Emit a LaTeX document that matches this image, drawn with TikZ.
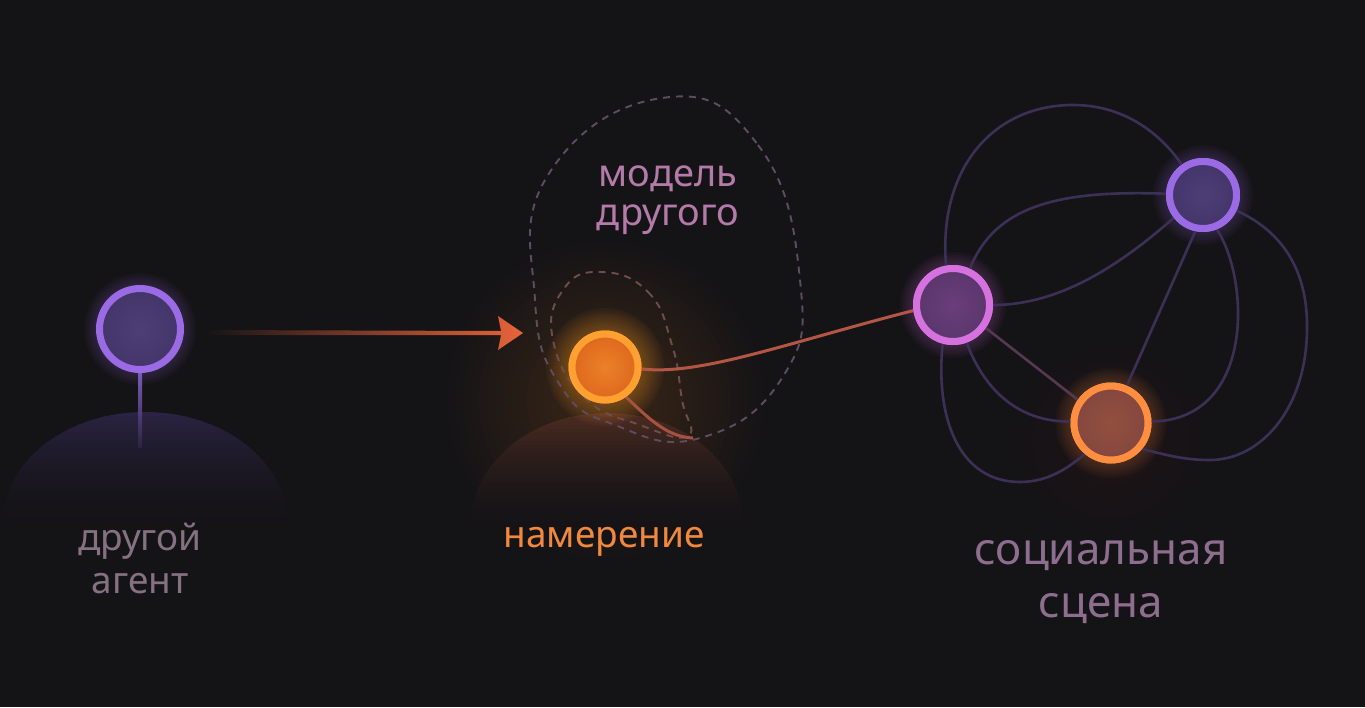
\documentclass[tikz,border=0pt]{standalone}
\usepackage{fontspec}
\setmainfont{Noto Sans}
\usetikzlibrary{calc}
\definecolor{bg}{HTML}{141316}
\definecolor{purplering}{HTML}{9B6BE6}
\definecolor{purplefill}{HTML}{43356A}
\definecolor{pinkring}{HTML}{D672E0}
\definecolor{pinkfill}{HTML}{5A366C}
\definecolor{orangering}{HTML}{FFA030}
\definecolor{corangering}{HTML}{FF8E40}
\definecolor{corangefill}{HTML}{84463F}
\definecolor{edgec}{HTML}{3D3057}
\definecolor{dashc}{HTML}{5E4D62}
\definecolor{txtgray}{HTML}{857182}
\definecolor{txtpink}{HTML}{B47AA8}
\definecolor{txtorange}{HTML}{F0883F}
\definecolor{txtscene}{HTML}{8E6E8E}
\definecolor{domepurple}{HTML}{2A2342}
\definecolor{domeorange}{HTML}{4C2B21}
\newcommand\glowat[6]{%
  \foreach \k in {1,...,#4}{\fill[#3,opacity=#5] (#1) circle[radius={#2pt+#6pt*\k}];}}
% dome: centre x, top y, x radius, y radius, colour
\newcommand\domeat[5]{%
  \begin{scope}
    \clip (#1,#2+#4) ellipse[x radius=#3pt, y radius=#4pt];
    \foreach \i in {0,...,31}{
      \pgfmathtruncatemacro\p{100*(1-\i/32)^2}
      \fill[#5!\p!bg] (#1-#3,#2+\i*4) rectangle (#1+#3,#2+\i*4+4.6);
    }
  \end{scope}}
\tikzset{
  dot/.style={circle,inner sep=0pt,line width=7pt},
  sceneedge/.style={draw=edgec,line width=2.6pt},
  dashline/.style={draw=dashc,line width=1.9pt,dash pattern=on 7pt off 6pt},
  label/.style={align=center,inner sep=0pt}
}
\begin{document}
\begin{tikzpicture}[x=1pt,y=-1pt]
\fill[bg] (0,0) rectangle (1365,707);
\useasboundingbox (0,0) rectangle (1365,707);

% broad haze
\glowat{605,400}{30}{orangering}{16}{0.010}{8}
\glowat{1111,440}{30}{corangering}{8}{0.008}{8}

% domes
\domeat{145}{412}{142}{110}{domepurple}
\domeat{607}{413}{136}{111}{domeorange}

% glows
\glowat{140,329}{41}{purplering}{6}{0.04}{2.5}
\glowat{605,367}{34}{orangering}{10}{0.04}{2.5}
\glowat{953,305}{38}{pinkring}{6}{0.04}{2.5}
\glowat{1203,195}{35}{purplering}{6}{0.04}{2.5}
\glowat{1111,423}{38}{corangering}{7}{0.035}{2.5}

% stem of left node
\shade[top color={rgb,255:red,122;green,92;blue,186}, bottom color={rgb,255:red,44;green,36;blue,64}] (138,372) rectangle (142,447);

% dashed model ellipses
\draw[dashline] plot[smooth cycle, tension=0.8] coordinates {(662,98) (758,145) (800,280) (782,378) (700,438) (615,425) (560,385) (535,300) (548,175)};
\draw[dashline, draw={rgb,255:red,110;green,78;blue,74}] plot[smooth cycle, tension=0.8] coordinates {(600,272) (648,292) (672,345) (682,400) (688,436) (640,425) (585,398) (553,340) (563,290)};

% nodes
\node[dot, minimum size=81pt, draw=purplering, inner color={rgb,255:red,78;green,62;blue,118}, outer color=purplefill] (other) at (140,329) {};
\node[dot, minimum size=66pt, draw=orangering, inner color={rgb,255:red,236;green,128;blue,40}, outer color={rgb,255:red,222;green,104;blue,30}] (intent) at (605,367) {};
\node[dot, minimum size=73pt, draw=pinkring, inner color={rgb,255:red,106;green,62;blue,122}, outer color=pinkfill] (A) at (953,305) {};
\node[dot, minimum size=67pt, draw=purplering, inner color={rgb,255:red,78;green,62;blue,118}, outer color=purplefill] (B) at (1203,195) {};
\node[dot, minimum size=74pt, draw=corangering, inner color={rgb,255:red,146;green,80;blue,62}, outer color=corangefill] (C) at (1111,423) {};

% arrow from other agent
\coordinate (arrowtip) at (523,333);
\shade[left color=bg, middle color={rgb,255:red,86;green,62;blue,122}, right color={rgb,255:red,232;green,100;blue,58}]
  ($(other.east)+(20,1)$) -- (501,331) -- (498,316) -- (arrowtip) -- (498,350) -- (501,335) -- ($(other.east)+(20,6)$) -- cycle;

% connectors from intention
\coordinate (dashbottom) at (693,438);
\draw[draw={rgb,255:red,180;green,86;blue,68}, line width=3pt] (intent.-3) .. controls (700,376) and (790,342) .. (A.188);
\draw[draw={rgb,255:red,166;green,82;blue,64}, line width=3pt] (intent.-55) .. controls (650,420) and (668,437) .. (dashbottom);

% scene edges
\path[sceneedge] (A.100) .. controls (938,170) and (992,105) .. (1073,105) .. controls (1130,105) and (1165,140) .. (B.125);
\path[sceneedge] (A.65) .. controls (995,205) and (1060,190) .. (B.178);
\path[sceneedge] (A.0) .. controls (1060,305) and (1120,265) .. (B.218);
\path[sceneedge, draw={rgb,255:red,86;green,56;blue,82}] (A.-35) -- (C.145);
\path[sceneedge] (A.-70) .. controls (985,392) and (1020,422) .. (C.178);
\path[sceneedge] (A.-105) .. controls (935,420) and (960,482) .. (1020,482) .. controls (1050,482) and (1070,466) .. (C.-130);
\path[sceneedge] (B.-102) -- (C.67);
\path[sceneedge] (B.-68) .. controls (1250,280) and (1255,420) .. (C.2);
\path[sceneedge] (B.-25) .. controls (1290,235) and (1308,280) .. (1307,330) .. controls (1306,410) and (1260,460) .. (1210,460) .. controls (1180,460) and (1160,453) .. (C.-40);

% redraw nodes on top of edges
\node[dot, minimum size=73pt, draw=pinkring, inner color={rgb,255:red,106;green,62;blue,122}, outer color=pinkfill] at (A) {};
\node[dot, minimum size=67pt, draw=purplering, inner color={rgb,255:red,78;green,62;blue,118}, outer color=purplefill] at (B) {};
\node[dot, minimum size=74pt, draw=corangering, inner color={rgb,255:red,146;green,80;blue,62}, outer color=corangefill] at (C) {};
\node[dot, minimum size=66pt, draw=orangering, inner color={rgb,255:red,236;green,128;blue,40}, outer color={rgb,255:red,222;green,104;blue,30}] at (intent) {};

% labels
\node[label, text=txtgray, font=\fontsize{37}{43}\selectfont] (lblother) at (140,558) {другой\\агент};
\node[label, text=txtorange, font=\fontsize{37}{43}\selectfont] (lblintent) at (604,542) {намерение};
\node[label, text=txtpink, font=\fontsize{38}{39}\selectfont] (lblmodel) at (668,200) {модель\\другого};
\node[label, text=txtscene, font=\fontsize{44}{53}\selectfont] (lblscene) at (1101,582) {социальная\\сцена};
\end{tikzpicture}
\end{document}
